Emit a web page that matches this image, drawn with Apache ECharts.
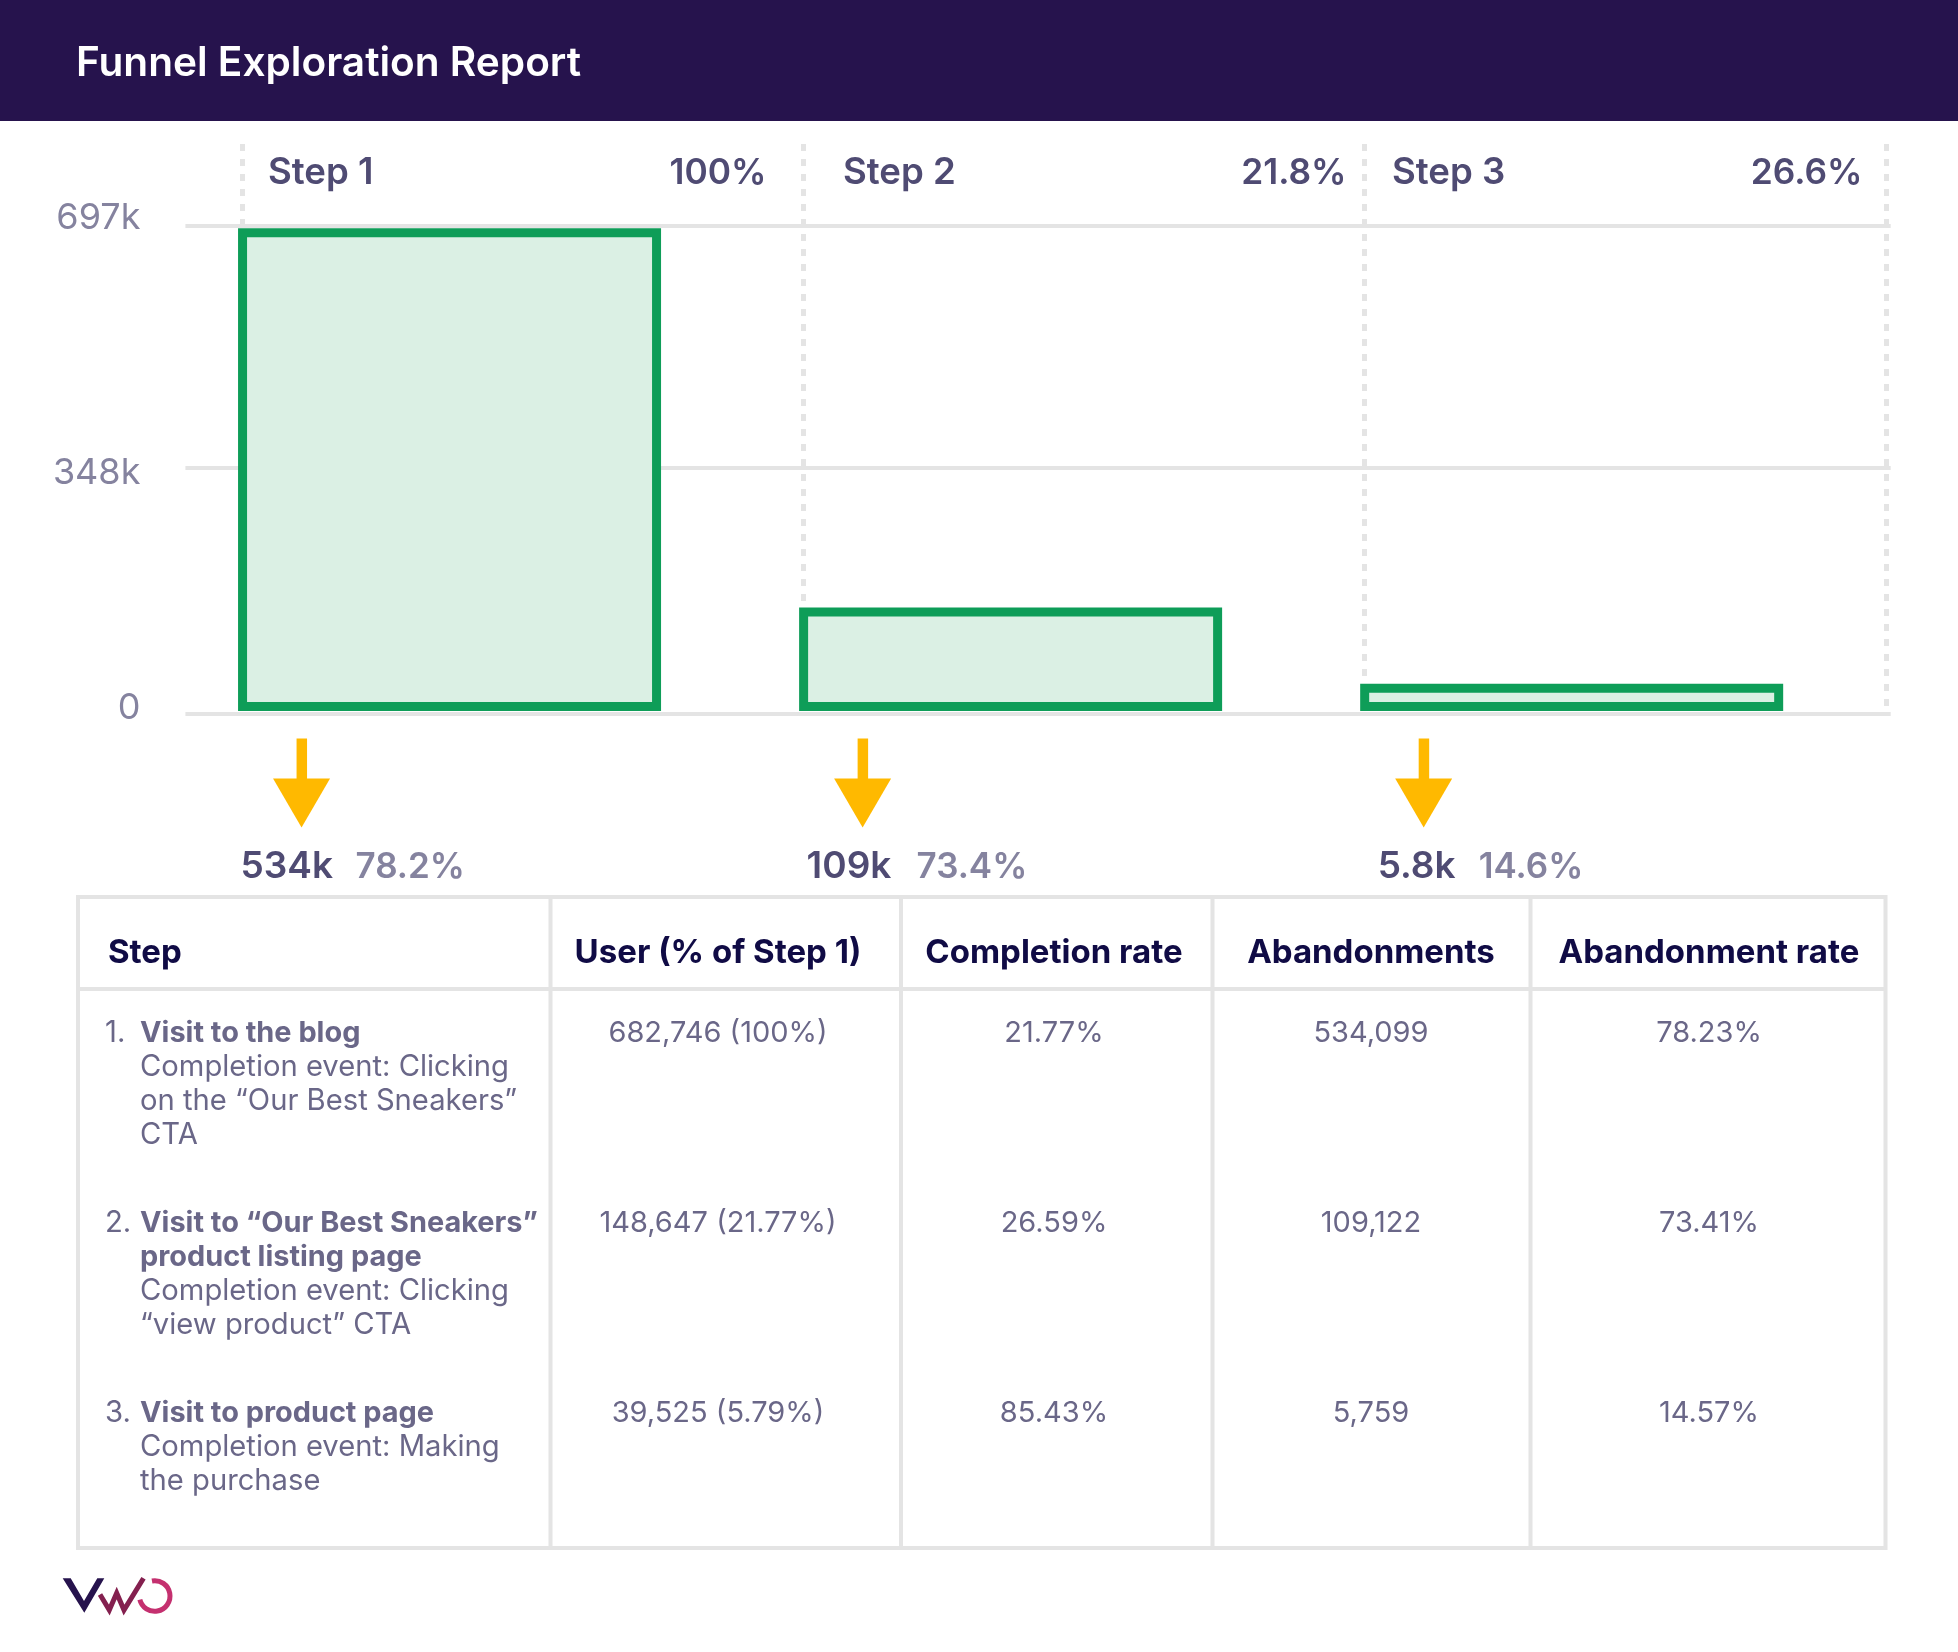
<!DOCTYPE html>
<html>
<head>
<meta charset="utf-8">
<style>html,body{margin:0;padding:0;background:#fff}#main{width:1958px;height:1652px}</style>
<script src="https://cdn.jsdelivr.net/npm/echarts@6/dist/echarts.min.js"></script>
</head>
<body>
<div id="main"></div>
<script>
// values
var categories = ['Step 1', 'Step 2', 'Step 3'];
var stepValues = [693000, 148600, 39000];
var stepPercents = ['100%', '21.8%', '26.6%'];
var yTickLabels = { 0: '0', 348500: '348k', 697000: '697k' };
var dropCounts = ['534k', '109k', '5.8k'];
var dropRates = ['78.2%', '73.4%', '14.6%'];
var tableHeader = ['Step', 'User (% of Step 1)', 'Completion rate', 'Abandonments', 'Abandonment rate'];
var rowUsers = ['682,746 (100%)', '148,647 (21.77%)', '39,525 (5.79%)'];
var rowCompletion = ['21.77%', '26.59%', '85.43%'];
var rowAbandons = ['534,099', '109,122', '5,759'];
var rowAbandonRate = ['78.23%', '73.41%', '14.57%'];
var rowTitles = [
    ['Visit to the blog'],
    ['Visit to “Our Best Sneakers”', 'product listing page'],
    ['Visit to product page']
];
var rowDetails = [
    ['Completion event: Clicking', 'on the “Our Best Sneakers”', 'CTA'],
    ['Completion event: Clicking', '“view product” CTA'],
    ['Completion event: Making', 'the purchase']
];

// look and layout
var FONT = 'Inter';
var LINE = '#e4e4e4';
var STEP_COLOR = '#4f4b73';
var MUTED = '#85839f';
var BODY = '#6a6788';
var NAVY = '#100b45';
var dividers = [-0.3738, 0.6271, 1.6255, 2.5630];   // in step units on the x axis
var stepLabelX = [268, 843, 1392];
var stepPercentX = [766.5, 1346.5, 1862.5];
var countOffset = [-61, -56, -46];
var rateOffset = [54, 54, 55];
var columnX = [550.5, 901, 1212.5, 1530.5];
var columnCenter = [718, 1054, 1371, 1709];
var rowTop = [1033, 1223, 1413];
var ROW_LINE = 34.2;

var graphics = [];
function text(x, y, str, size, weight, color, align) {
    graphics.push({
        type: 'text', x: x, y: y, z: 10, silent: true,
        style: { text: str, fontFamily: FONT, fontSize: size, fontWeight: weight, fill: color, align: align || 'left', verticalAlign: 'middle' }
    });
}
function line(x1, y1, x2, y2, color, width) {
    graphics.push({
        type: 'line', z: 9, silent: true,
        shape: { x1: x1, y1: y1, x2: x2, y2: y2 },
        style: { stroke: color, lineWidth: width }
    });
}

// header band
graphics.push({ type: 'rect', z: 1, silent: true, shape: { x: 0, y: 0, width: 1958, height: 121 }, style: { fill: '#26134d' } });
text(76, 63.5, 'Funnel Exploration Report', 40.6, 600, '#ffffff');

// step captions over the plot
categories.forEach(function (name, i) {
    text(stepLabelX[i], 173, name, 36.6, 600, STEP_COLOR);
    text(stepPercentX[i], 173, stepPercents[i], 35.3, 600, STEP_COLOR, 'right');
});

// table frame
line(78, 897, 1885.5, 897, LINE, 4);
line(78, 989, 1885.5, 989, LINE, 4);
line(78, 1548, 1885.5, 1548, LINE, 4);
line(78, 895, 78, 1550, LINE, 4);
line(1885.5, 895, 1885.5, 1550, LINE, 4);
columnX.forEach(function (x) { line(x, 895, x, 1550, LINE, 4); });

// table header
text(108, 953.5, tableHeader[0], 33, 700, NAVY);
columnCenter.forEach(function (x, i) { text(x, 953.5, tableHeader[i + 1], 33, 700, NAVY, 'center'); });

// table rows
rowTitles.forEach(function (titles, i) {
    var y = rowTop[i];
    text(105, y, (i + 1) + '.', 29.3, 400, BODY);
    titles.forEach(function (t) { text(140, y, t, 28.9, 700, BODY); y += ROW_LINE; });
    rowDetails[i].forEach(function (t) { text(140, y, t, 29.2, 400, BODY); y += ROW_LINE; });
    text(columnCenter[0], rowTop[i], rowUsers[i], 29, 400, BODY, 'center');
    text(columnCenter[1], rowTop[i], rowCompletion[i], 29, 400, BODY, 'center');
    text(columnCenter[2], rowTop[i], rowAbandons[i], 29, 400, BODY, 'center');
    text(columnCenter[3], rowTop[i], rowAbandonRate[i], 29, 400, BODY, 'center');
});

// VWO logo
graphics.push({ type: 'polygon', silent: true, shape: { points: [[62.7, 1578.3], [70.7, 1578.3], [84, 1601], [97.3, 1578.3], [104.3, 1578.3], [84.3, 1612.7]] }, style: { fill: '#26134d' } });
graphics.push({ type: 'polyline', silent: true, shape: { points: [[100, 1594.5], [109.3, 1610], [116.7, 1593], [124, 1610], [143.5, 1578.3]] }, style: { stroke: '#84204f', lineWidth: 5, fill: 'none', lineJoin: 'miter' } });
graphics.push({ type: 'arc', silent: true, shape: { cx: 154.7, cy: 1596, r: 15.3, startAngle: -1.75, endAngle: 2.9 }, style: { stroke: '#c4306f', lineWidth: 5, fill: 'none' } });

var myChart = echarts.init(document.getElementById('main'));
myChart.setOption({
    animation: false,
    backgroundColor: '#fff',
    grid: { left: 185.4, top: 144, width: 1705.3, height: 567 },
    xAxis: {
        type: 'value', min: -0.4708, max: 2.5686, offset: 2.5,
        axisLabel: { show: false }, axisTick: { show: false }, splitLine: { show: false },
        axisLine: { show: true, onZero: false, lineStyle: { color: LINE, width: 4, cap: 'butt' } }
    },
    yAxis: {
        type: 'value', min: 0, max: 813800, interval: 348500,
        axisLine: { show: false }, axisTick: { show: false },
        splitLine: { show: true, showMinLine: false, showMaxLine: false, lineStyle: { color: LINE, width: 4, cap: 'butt' } },
        axisLabel: {
            margin: 45, showMaxLabel: false,
            formatter: function (v) {
                if (v === 697000) return '{top|' + yTickLabels[v] + '}';
                if (v === 0) return '{low|' + yTickLabels[v] + '}';
                return '{mid|' + (yTickLabels[v] || '') + '}';
            },
            rich: {
                top: { fontFamily: FONT, fontSize: 36, color: MUTED, padding: [0, 0, 15, 0] },
                mid: { fontFamily: FONT, fontSize: 36, color: MUTED, padding: [9, 0, 0, 0] },
                low: { fontFamily: FONT, fontSize: 36, color: MUTED, padding: [0, 0, 6, 0] }
            }
        }
    },
    graphic: graphics,
    series: [
        {
            type: 'bar', z: 3, barWidth: 423,
            data: stepValues.map(function (v, i) { return [i, v]; }),
            itemStyle: { color: '#dbf0e4', borderColor: '#0e9d58', borderWidth: 9 },
            markLine: {
                z: 1, silent: true, symbol: 'none', label: { show: false },
                lineStyle: { color: LINE, width: 5, type: [7, 8], dashOffset: 10 },
                data: dividers.map(function (x) { return { xAxis: x }; })
            }
        },
        {
            type: 'custom', z: 4,
            data: categories.map(function (c, i) { return [i, 0]; }),
            renderItem: function (params, api) {
                var i = api.value(0);
                var c = api.coord([i, 0]);
                var x = c[0] - 148;
                var top = c[1] + 27.5;
                return {
                    type: 'group',
                    children: [
                        { type: 'rect', shape: { x: x - 5, y: top, width: 10.5, height: 45 }, style: { fill: '#ffb900' } },
                        { type: 'polygon', shape: { points: [[x - 28.5, top + 40], [x + 28.5, top + 40], [x, top + 89]] }, style: { fill: '#ffb900' } },
                        { type: 'text', x: x + countOffset[i], y: c[1] + 156, style: { text: dropCounts[i], fontFamily: FONT, fontSize: 37, fontWeight: 600, fill: STEP_COLOR, verticalAlign: 'middle' } },
                        { type: 'text', x: x + rateOffset[i], y: c[1] + 156, style: { text: dropRates[i], fontFamily: FONT, fontSize: 35, fontWeight: 600, fill: MUTED, verticalAlign: 'middle' } }
                    ]
                };
            }
        }
    ]
});
</script>
</body>
</html>
